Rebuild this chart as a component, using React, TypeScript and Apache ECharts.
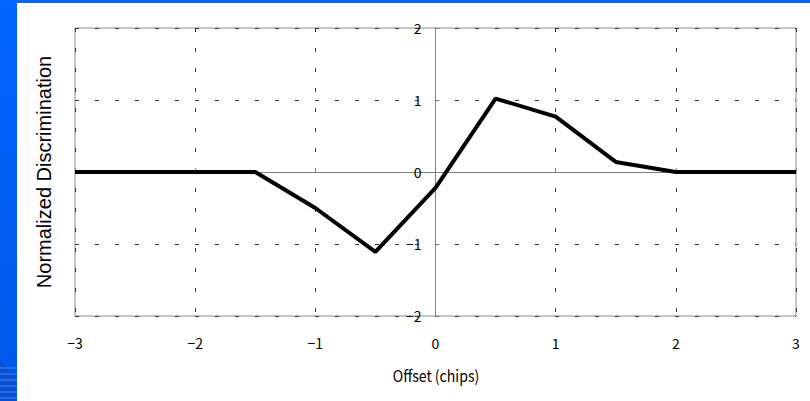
import React, { useEffect, useRef } from "react";
import * as echarts from "echarts";

const offsets = [-3, -2.5, -2, -1.5, -1, -0.5, 0, 0.5, 1, 1.5, 2, 2.5, 3];
const discrimination = [0, 0, 0, 0, -0.5, -1.11, -0.22, 1.02, 0.77, 0.14, 0, 0, 0];
const xTicks = [-3, -2, -1, 0, 1, 2, 3];
const yTicks = [-2, -1, 0, 1, 2];

const minus = (v: number) => String(v).replace("-", "\u2212");

export default function App() {
  const ref = useRef<HTMLDivElement>(null);
  useEffect(() => {
    document.body.style.margin = "0";
    const chart = echarts.init(ref.current!, null, { renderer: "svg" });
    const tickFont = "'Noto Sans CJK JP', 'DejaVu Sans', sans-serif";
    const gridLeft = 75;
    const gridRight = 14;
    const plotW = 810 - gridLeft - gridRight;
    const xMin = xTicks[0];
    const xMax = xTicks[xTicks.length - 1];
    const zeroOffset = -((0 - xMin) / (xMax - xMin)) * plotW;
    const stripes: any[] = [];
    for (let i = 0; i < 6; i++) {
      stripes.push({
        type: "line",
        shape: { x1: 0, y1: 368 + i * 6, x2: 17, y2: 368 + i * 6 },
        style: { stroke: "#3d8bff", lineWidth: 1 },
        z: 11,
      });
    }
    chart.setOption({
      animation: false,
      backgroundColor: "#ffffff",
      grid: { left: gridLeft, right: gridRight, top: 28, bottom: 85, show: true, borderColor: "#8c8c8c", borderWidth: 1 },
      xAxis: [
        {
          type: "value",
          min: xMin,
          max: xMax,
          interval: 1,
          position: "bottom",
          axisLine: { show: false, onZero: false },
          axisTick: { show: false },
          axisLabel: {
            margin: 20,
            color: "#000",
            fontSize: 14,
            fontFamily: tickFont,
            formatter: (v: number) => minus(v),
          },
          splitLine: { show: true, lineStyle: { color: "#333", type: [4, 16], width: 1 } },
        },
        {
          type: "value",
          min: xMin,
          max: xMax,
          interval: 1,
          position: "top",
          axisLine: { show: true, onZero: true, lineStyle: { color: "#808080", width: 1 } },
          axisTick: { show: true, inside: false, length: 4, lineStyle: { color: "#808080" } },
          axisLabel: { show: false },
          splitLine: { show: false },
        },
      ],
      yAxis: {
        type: "value",
        min: yTicks[0],
        max: yTicks[yTicks.length - 1],
        interval: 1,
        position: "left",
        offset: zeroOffset,
        axisLine: { show: true, onZero: false, lineStyle: { color: "#808080", width: 1 } },
        axisTick: { show: true, inside: true, length: 4, lineStyle: { color: "#808080" } },
        axisLabel: {
          margin: 14,
          color: "#000",
          fontSize: 14,
          fontFamily: tickFont,
          formatter: (v: number) => minus(v),
        },
        splitLine: { show: true, lineStyle: { color: "#333", type: [4, 16], width: 1 } },
      },
      series: [
        {
          type: "line",
          xAxisIndex: 0,
          data: offsets.map((x, i) => [x, discrimination[i]]),
          showSymbol: false,
          symbol: "none",
          lineStyle: { color: "#000", width: 4 },
          z: 5,
        },
      ],
      graphic: [
        {
          type: "rect",
          shape: { x: 0, y: 0, width: 810, height: 3 },
          style: { fill: "#0066ff" },
          z: 10,
        },
        {
          type: "rect",
          shape: { x: 0, y: 0, width: 17, height: 401 },
          style: {
            fill: new echarts.graphic.LinearGradient(0, 0, 0, 1, [
              { offset: 0, color: "#0066ff" },
              { offset: 1, color: "#0058e6" },
            ]),
          },
          z: 10,
        },
        {
          type: "polygon",
          shape: { points: [[0, 360], [17, 378], [17, 401], [0, 401]] },
          style: { fill: "#0a50d0" },
          z: 10,
        },
        ...stripes,
        {
          type: "text",
          x: 44,
          y: 172,
          rotation: Math.PI / 2,
          style: {
            text: "Normalized Discrimination",
            fontSize: 20,
            fontFamily: "'Liberation Sans', Arial, sans-serif",
            fill: "#000",
            align: "center",
            verticalAlign: "middle",
          },
          z: 12,
        },
        {
          type: "text",
          x: 436,
          y: 375,
          scaleX: 0.88,
          style: {
            text: "Offset (chips)",
            fontSize: 16,
            fontFamily: tickFont,
            fill: "#000",
            align: "center",
            verticalAlign: "middle",
          },
          z: 12,
        },
      ],
    });
    return () => chart.dispose();
  }, []);
  return <div ref={ref} style={{ width: 810, height: 401 }} />;
}
